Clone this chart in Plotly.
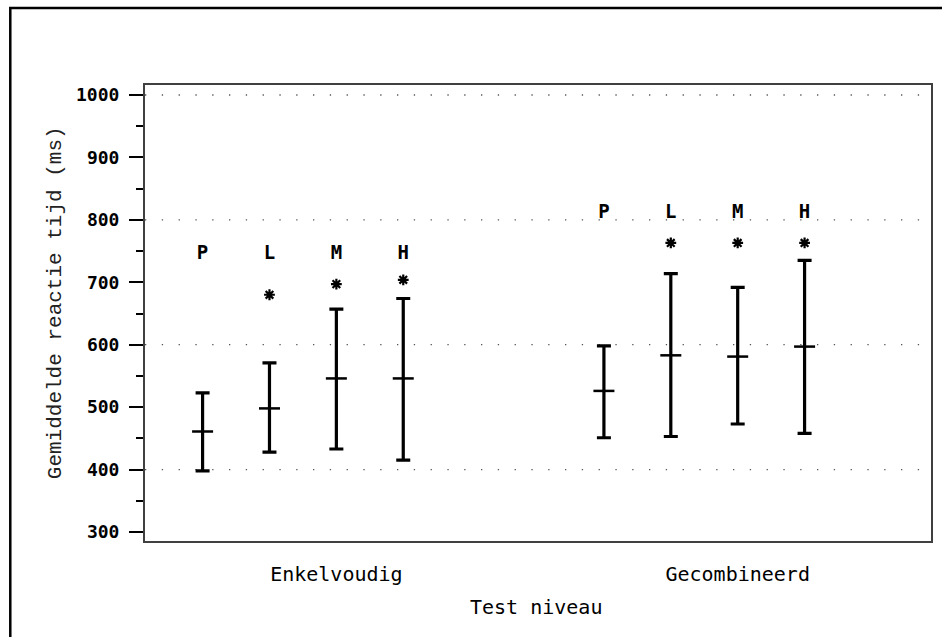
import plotly.graph_objects as go

# ---- data ----
levels = ["P", "L", "M", "H"]
groups = ["Enkelvoudig", "Gecombineerd"]
group_pos = [3, 9]
positions = [1, 2, 3, 4, 7, 8, 9, 10]

means = [461, 498, 546, 546, 526, 583, 581, 597]
lows = [398, 428, 433, 415, 451, 453, 473, 458]
highs = [523, 571, 657, 674, 598, 714, 692, 735]

letter_y = [745, 745, 745, 745, 811, 811, 811, 811]
star_y = [None, 680, 697, 704, None, 763, 763, 763]

grid_vals = [400, 600, 800, 1000]
y_ticks = [300, 400, 500, 600, 700, 800, 900, 1000]

W, H = 942, 637
L, R, T, B = 145, 932.7, 85, 541
plot_w = R - L
plot_h = B - T

fig = go.Figure()

fig.add_trace(go.Scatter(
    x=positions, y=means, mode="markers",
    marker=dict(symbol="line-ew", size=15, color="black",
                line=dict(width=2.5, color="black")),
    error_y=dict(type="data", symmetric=False,
                 array=[h - m for h, m in zip(highs, means)],
                 arrayminus=[m - l for m, l in zip(means, lows)],
                 thickness=3.2, width=7, color="black"),
    showlegend=False, hoverinfo="skip",
))

fig.add_trace(go.Scatter(
    x=positions, y=letter_y, mode="text",
    text=levels * 2, textposition="middle center",
    textfont=dict(family="DejaVu Sans Mono", size=19, color="black", weight="bold"),
    showlegend=False, hoverinfo="skip",
))

fig.add_trace(go.Scatter(
    x=positions, y=star_y, mode="markers",
    marker=dict(symbol="asterisk-open", size=9, color="black",
                line=dict(width=2.2, color="black")),
    showlegend=False, hoverinfo="skip",
))

shapes = []
for g in grid_vals:
    shapes.append(dict(type="line", xref="paper", yref="y", x0=0, x1=1, y0=g, y1=g,
                       line=dict(color="#555555", width=1.3, dash="1.3px,15.5px"),
                       layer="below"))
# outer border
shapes.append(dict(type="rect", xref="paper", yref="paper",
                   x0=(10 - L) / plot_w, x1=(950 - L) / plot_w,
                   y0=-(660 - B) / plot_h, y1=1 + (T - 8) / plot_h,
                   line=dict(color="black", width=2.5)))

annotations = [
    dict(text="Gemiddelde reactie tijd (ms)", xref="paper", yref="paper",
         x=(55 - L) / plot_w, y=(B - 303) / plot_h, textangle=-90,
         showarrow=False, xanchor="center", yanchor="middle",
         font=dict(family="Liberation Mono", size=21, color="#222222")),
    dict(text="Test niveau", xref="paper", yref="paper",
         x=(537 - L) / plot_w, y=-(607 - B) / plot_h,
         showarrow=False, xanchor="center", yanchor="middle",
         font=dict(family="DejaVu Sans Mono", size=20, color="black")),
]

fig.update_layout(
    width=W, height=H,
    margin=dict(l=L, r=W - R, t=T, b=H - B, pad=0),
    paper_bgcolor="white", plot_bgcolor="white",
    shapes=shapes, annotations=annotations,
    xaxis=dict(range=[0.139, 11.89], tickmode="array", tickvals=group_pos, ticktext=groups,
               showgrid=False, zeroline=False, showline=True, mirror=True,
               linecolor="#404040", linewidth=2, ticks="", ticklabelstandoff=14,
               tickfont=dict(family="DejaVu Sans Mono", size=20, color="black")),
    yaxis=dict(range=[285.6, 1016], tickmode="array", tickvals=y_ticks,
               showgrid=False, zeroline=False, showline=True, mirror=True,
               linecolor="#404040", linewidth=2,
               ticks="outside", ticklen=14, tickwidth=1.5, tickcolor="black",
               ticklabelstandoff=6,
               minor=dict(tickmode="linear", dtick=50, tick0=0, ticks="outside", ticklen=7,
                          tickwidth=1.5, tickcolor="black"),
               tickfont=dict(family="DejaVu Sans Mono", size=18, color="black", weight="bold")),
)

fig.write_html("out.html", config={"displayModeBar": False},
               post_script="document.body.style.margin='0';document.body.style.overflow='hidden';")
